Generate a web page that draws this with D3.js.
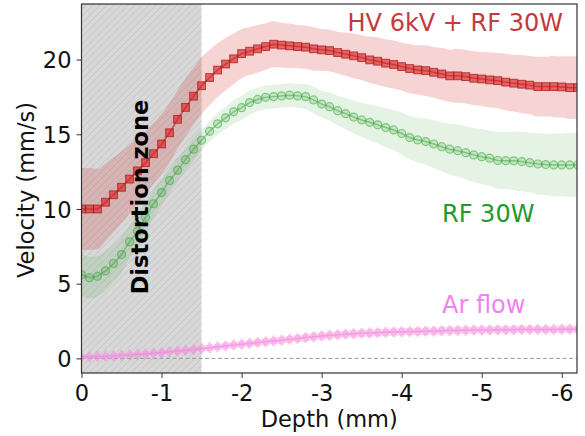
<!DOCTYPE html>
<html>
<head>
<meta charset="utf-8">
<script src="https://cdn.jsdelivr.net/npm/d3@7"></script>
<style>
  body { margin: 0; background: #fff; }
  text { font-family: "DejaVu Sans", sans-serif; }
</style>
</head>
<body>
<div id="chart"></div>
<script>
// depth positions (mm)
var depth = [0, -0.1, -0.2, -0.3, -0.4, -0.5, -0.6, -0.7, -0.8, -0.9,
  -1.0, -1.1, -1.2, -1.3, -1.4, -1.5, -1.6, -1.7, -1.8, -1.9,
  -2.0, -2.1, -2.2, -2.3, -2.4, -2.5, -2.6, -2.7, -2.8, -2.9,
  -3.0, -3.1, -3.2, -3.3, -3.4, -3.5, -3.6, -3.7, -3.8, -3.9,
  -4.0, -4.1, -4.2, -4.3, -4.4, -4.5, -4.6, -4.7, -4.8, -4.9,
  -5.0, -5.1, -5.2, -5.3, -5.4, -5.5, -5.6, -5.7, -5.8, -5.9,
  -6.0, -6.1, -6.2];

// HV 6kV + RF 30W
var hvMean = [10.0, 10.0, 10.0, 10.45, 10.95, 11.45, 12.0, 12.55, 13.1, 13.7,
  14.35, 15.1, 16.0, 16.8, 17.55, 18.25, 18.8, 19.3, 19.7, 20.05,
  20.4, 20.56, 20.72, 20.87, 21.03, 20.97, 20.92, 20.87, 20.83, 20.72,
  20.65, 20.6, 20.47, 20.36, 20.25, 20.13, 19.98, 19.89, 19.76, 19.67,
  19.53, 19.4, 19.31, 19.26, 19.15, 19.04, 18.91, 18.91, 18.86, 18.75,
  18.7, 18.64, 18.59, 18.49, 18.42, 18.35, 18.29, 18.19, 18.19, 18.19,
  18.17, 18.12, 18.12];
var hvStd = [2.75, 2.75, 2.7, 2.6, 2.5, 2.4, 2.3, 2.2, 2.1, 2.05,
  2.0, 2.0, 1.95, 1.95, 1.9, 1.9, 1.85, 1.8, 1.75, 1.7,
  1.65, 1.6, 1.6, 1.55, 1.55, 1.5, 1.5, 1.45, 1.45, 1.45,
  1.4, 1.4, 1.4, 1.45, 1.5, 1.5, 1.55, 1.6, 1.6, 1.6,
  1.6, 1.65, 1.65, 1.7, 1.7, 1.75, 1.75, 1.8, 1.8, 1.8,
  1.8, 1.85, 1.85, 1.9, 1.9, 1.95, 1.95, 2.0, 2.0, 2.05,
  2.05, 2.1, 2.1];

// RF 30W
var rfMean = [5.6, 5.4, 5.5, 5.85, 6.35, 6.95, 7.8, 8.5, 9.45, 10.35,
  11.1, 11.9, 12.6, 13.3, 14.0, 14.6, 15.2, 15.7, 16.1, 16.5,
  16.78, 17.12, 17.33, 17.47, 17.52, 17.57, 17.62, 17.57, 17.52, 17.3,
  17.02, 16.85, 16.58, 16.38, 16.15, 15.96, 15.8, 15.63, 15.45, 15.29,
  15.05, 14.78, 14.62, 14.51, 14.35, 14.17, 14.0, 13.9, 13.77, 13.62,
  13.5, 13.4, 13.25, 13.23, 13.22, 13.17, 13.1, 13.01, 12.97, 12.95,
  12.95, 12.95, 12.95];
var rfStd = [1.4, 1.4, 1.35, 1.3, 1.25, 1.2, 1.1, 1.05, 1.0, 0.95,
  0.9, 0.85, 0.8, 0.75, 0.75, 0.7, 0.7, 0.75, 0.75, 0.8,
  0.8, 0.8, 0.8, 0.8, 0.8, 0.8, 0.8, 0.8, 0.85, 0.9,
  0.9, 0.95, 1.0, 1.05, 1.1, 1.15, 1.2, 1.25, 1.3, 1.35,
  1.4, 1.45, 1.5, 1.55, 1.6, 1.65, 1.7, 1.75, 1.8, 1.8,
  1.85, 1.85, 1.9, 1.9, 1.95, 2.0, 2.0, 2.05, 2.05, 2.1,
  2.1, 2.15, 2.15];

// Ar flow
var arMean = [0.1, 0.1, 0.12, 0.14, 0.17, 0.2, 0.23, 0.27, 0.3, 0.35,
  0.4, 0.45, 0.5, 0.55, 0.6, 0.65, 0.71, 0.77, 0.83, 0.89,
  0.95, 1.0, 1.06, 1.11, 1.17, 1.22, 1.28, 1.33, 1.39, 1.45,
  1.5, 1.54, 1.58, 1.62, 1.65, 1.68, 1.7, 1.72, 1.74, 1.76,
  1.78, 1.79, 1.8, 1.82, 1.83, 1.85, 1.86, 1.87, 1.88, 1.89,
  1.9, 1.9, 1.91, 1.92, 1.92, 1.93, 1.93, 1.94, 1.94, 1.94,
  1.95, 1.95, 1.95];
var arStd = [0.15, 0.15, 0.15, 0.15, 0.16, 0.16, 0.17, 0.17, 0.18, 0.18,
  0.19, 0.19, 0.2, 0.2, 0.2, 0.21, 0.21, 0.21, 0.22, 0.22,
  0.22, 0.22, 0.23, 0.23, 0.23, 0.23, 0.23, 0.24, 0.24, 0.24,
  0.24, 0.24, 0.24, 0.24, 0.25, 0.25, 0.25, 0.25, 0.25, 0.25,
  0.25, 0.25, 0.25, 0.25, 0.25, 0.25, 0.25, 0.25, 0.25, 0.25,
  0.25, 0.25, 0.25, 0.25, 0.25, 0.25, 0.25, 0.25, 0.25, 0.25,
  0.25, 0.25, 0.25];

var xTicks = [0, -1, -2, -3, -4, -5, -6];
var yTicks = [0, 5, 10, 15, 20];
var zoneEnd = -1.5;

var width = 585, height = 436;
var margin = {top: 4, right: 8, bottom: 63, left: 81.5};

var svg = d3.select("#chart").append("svg")
  .attr("width", width)
  .attr("height", height);

var x = d3.scaleLinear().domain([0, -6.19]).range([margin.left, width - margin.right]);
var y = d3.scaleLinear().domain([-0.98, 23.72]).range([height - margin.bottom, margin.top]);

var defs = svg.append("defs");
defs.append("clipPath").attr("id", "plotclip")
  .append("rect")
  .attr("x", x(0)).attr("y", y(23.72))
  .attr("width", x(-6.19) - x(0)).attr("height", y(-0.98) - y(23.72));

// "///" hatch for the distortion zone
var hatch = defs.append("pattern")
  .attr("id", "hatch")
  .attr("patternUnits", "userSpaceOnUse")
  .attr("width", 7).attr("height", 7);
hatch.append("rect").attr("width", 7).attr("height", 7).attr("fill", "#d8d8d8");
hatch.append("path")
  .attr("d", "M-1,8 L8,-1 M-4.5,4.5 L4.5,-4.5 M2.5,11.5 L11.5,2.5")
  .attr("stroke", "#c4c4c4")
  .attr("stroke-width", 0.9);

var plot = svg.append("g").attr("clip-path", "url(#plotclip)");

// distortion zone
plot.append("rect")
  .attr("x", x(0)).attr("y", y(23.72))
  .attr("width", x(zoneEnd) - x(0))
  .attr("height", y(-0.98) - y(23.72))
  .attr("fill", "url(#hatch)");

// zero line
plot.append("line")
  .attr("x1", x(0)).attr("x2", x(-6.19))
  .attr("y1", y(0)).attr("y2", y(0))
  .attr("stroke", "#999")
  .attr("stroke-width", 1)
  .attr("stroke-dasharray", "4,2.5");

function series(mean, std, bandColor, lineColor) {
  var pts = depth.map(function(d, i) { return {x: d, m: mean[i], s: std[i]}; });
  var area = d3.area()
    .x(function(d) { return x(d.x); })
    .y0(function(d) { return y(d.m - d.s); })
    .y1(function(d) { return y(d.m + d.s); })
    .curve(d3.curveMonotoneX);
  plot.append("path").datum(pts)
    .attr("d", area)
    .attr("fill", bandColor);
  var line = d3.line()
    .x(function(d) { return x(d.x); })
    .y(function(d) { return y(d.m); });
  plot.append("path").datum(pts)
    .attr("d", line)
    .attr("fill", "none")
    .attr("stroke", lineColor)
    .attr("stroke-width", 1.5);
  return pts;
}

// Ar flow
var arPts = series(arMean, arStd, "rgba(255,170,190,0.45)", "rgba(238,130,238,0.5)");
plot.selectAll(".diamond").data(arPts).enter()
  .append("path")
  .attr("class", "diamond")
  .attr("d", "M0,-5.5 L3.7,0 L0,5.5 L-3.7,0 Z")
  .attr("transform", function(d) { return "translate(" + x(d.x) + "," + y(d.m) + ")"; })
  .attr("fill", "rgba(238,130,238,0.38)")
  .attr("stroke", "rgba(238,130,238,0.38)")
  .attr("stroke-width", 1);

// RF 30W
var rfPts = series(rfMean, rfStd, "rgba(44,160,44,0.12)", "rgba(44,160,44,0.45)");
plot.selectAll(".circ").data(rfPts).enter()
  .append("circle")
  .attr("class", "circ")
  .attr("cx", function(d) { return x(d.x); })
  .attr("cy", function(d) { return y(d.m); })
  .attr("r", 4)
  .attr("fill", "rgba(44,160,44,0.18)")
  .attr("stroke", "rgba(44,160,44,0.5)")
  .attr("stroke-width", 1.2);

// HV 6kV + RF 30W
var hvPts = series(hvMean, hvStd, "rgba(214,39,40,0.2)", "rgba(190,30,30,0.7)");
plot.selectAll(".sq").data(hvPts).enter()
  .append("rect")
  .attr("class", "sq")
  .attr("x", function(d) { return x(d.x) - 3.9; })
  .attr("y", function(d) { return y(d.m) - 3.9; })
  .attr("width", 7.8).attr("height", 7.8)
  .attr("fill", "rgba(214,39,40,0.65)")
  .attr("stroke", "rgba(170,25,25,0.75)")
  .attr("stroke-width", 1);

// zone label
svg.append("text")
  .attr("transform", "translate(" + (x(0) + 66) + "," + 197 + ") rotate(-90)")
  .attr("text-anchor", "middle")
  .attr("font-size", 22.5)
  .attr("font-weight", "bold")
  .attr("fill", "#000")
  .text("Distortion zone");

// series labels
svg.append("text")
  .attr("x", 563).attr("y", 31)
  .attr("text-anchor", "end")
  .attr("font-size", 24)
  .attr("fill", "#c43a3c")
  .text("HV 6kV + RF 30W");
svg.append("text")
  .attr("x", 442).attr("y", 221.5)
  .attr("font-size", 24)
  .attr("fill", "#22992a")
  .text("RF 30W");
svg.append("text")
  .attr("x", 442).attr("y", 313)
  .attr("font-size", 24)
  .attr("fill", "#ee82ee")
  .text("Ar flow");

// axes
var xAxis = d3.axisBottom(x).tickValues(xTicks).tickSize(5).tickPadding(5)
  .tickFormat(function(d) { return d === 0 ? "0" : String(d); });
var gx = svg.append("g")
  .attr("transform", "translate(0," + y(-0.98) + ")")
  .call(xAxis);
var yAxis = d3.axisLeft(y).tickValues(yTicks).tickSize(5).tickPadding(5);
var gy = svg.append("g")
  .attr("transform", "translate(" + x(0) + ",0)")
  .call(yAxis);
[gx, gy].forEach(function(g) {
  g.select(".domain").remove();
  g.selectAll(".tick line").attr("stroke", "#333").attr("stroke-width", 1);
  g.selectAll(".tick text")
    .attr("font-size", 22.5)
    .attr("fill", "#111")
    .style("font-family", "'DejaVu Sans', sans-serif");
});
gx.selectAll(".tick text").attr("y", 11).attr("dy", "0.75em");
gy.selectAll(".tick text").attr("dy", "0.36em");

// frame
svg.append("rect")
  .attr("x", x(0)).attr("y", y(23.72))
  .attr("width", x(-6.19) - x(0)).attr("height", y(-0.98) - y(23.72))
  .attr("fill", "none")
  .attr("stroke", "#333")
  .attr("stroke-width", 1.2);

// axis labels
svg.append("text")
  .attr("x", (x(0) + x(-6.19)) / 2).attr("y", 427)
  .attr("text-anchor", "middle")
  .attr("font-size", 22.5)
  .attr("fill", "#111")
  .text("Depth (mm)");
svg.append("text")
  .attr("transform", "translate(34,190) rotate(-90)")
  .attr("text-anchor", "middle")
  .attr("font-size", 22.5)
  .attr("fill", "#111")
  .text("Velocity (mm/s)");
</script>
</body>
</html>
